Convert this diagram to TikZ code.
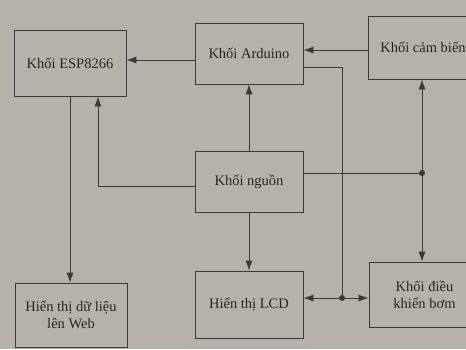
\documentclass[tikz,border=0pt]{standalone}
\usepackage{fontspec}
\setmainfont{Liberation Serif}
\usetikzlibrary{arrows.meta}
\definecolor{paper}{RGB}{182,178,170}
\definecolor{ink}{RGB}{60,58,56}
\definecolor{txt}{RGB}{40,38,36}
\begin{document}
\begin{tikzpicture}[x=1pt,y=-1pt,
  blk/.style={draw=ink,line width=0.8pt,inner sep=0pt,text=txt,font=\fontsize{14.5}{17}\selectfont,align=center},
  conn/.style={draw=ink,line width=0.8pt},
  arr/.style={conn,-{Latex[length=10pt,width=7pt]}},
  darr/.style={conn,{Latex[length=10pt,width=7pt]}-{Latex[length=10pt,width=7pt]}},
  jdot/.style={circle,fill=ink,inner sep=0pt,minimum size=6pt}]
\fill[paper] (0,0) rectangle (466,349);
\useasboundingbox (0,0) rectangle (466,349);
\begin{scope}
\clip (0,0) rectangle (466,349);
\node[blk,minimum width=112pt,minimum height=66pt] (esp) at (70,63) {Khối ESP8266};
\node[blk,minimum width=108pt,minimum height=61pt] (ard) at (249,53.5) {Khối Arduino};
\node[blk,minimum width=110pt,minimum height=63pt] (cb) at (423,47.5) {Khối cảm biến};
\node[blk,minimum width=108pt,minimum height=61pt] (ng) at (249,181.5) {Khối nguồn};
\node[blk,minimum width=108pt,minimum height=67pt] (lcd) at (249,304.5) {Hiển thị LCD};
\node[blk,minimum width=112pt,minimum height=64pt] (web) at (71,315) {Hiển thị dữ liệu\\lên Web};
\node[blk,minimum width=111pt,minimum height=65pt] (bom) at (424.5,294.5) {Khối điều\\khiển bơm};

\coordinate (j1) at (342,298);
\coordinate (j2) at (422,173);
\coordinate (k1) at (98,186);

\draw[arr] (ard.west |- 0,60) -- (esp.east |- 0,60);
\draw[arr] (cb.west |- 0,50) -- (ard.east |- 0,50);
\draw[conn] (ard.east |- 0,67) -| (j1);
\draw[darr] (lcd.east |- j1) -- (bom.west |- j1);
\draw[arr] (ng.west |- k1) -| (esp.south -| k1);
\draw[arr] (esp.south -| 70,0) -- (web.north -| 70,0);
\draw[arr] (ng.north) -- (ard.south);
\draw[arr] (ng.south) -- (lcd.north);
\draw[conn] (ng.east |- j2) -- (j2);
\draw[arr] (j2) -- (cb.south -| j2);
\draw[arr] (j2) -- (bom.north -| j2);
\node[jdot] (d1) at (j1) {};
\node[jdot] (d2) at (j2) {};
\end{scope}
\end{tikzpicture}
\end{document}
